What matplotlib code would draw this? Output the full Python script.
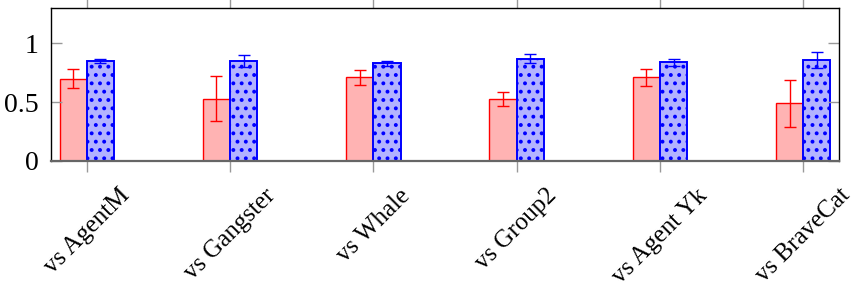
import numpy as np
import matplotlib.pyplot as plt

plt.rcParams['font.family'] = ['Liberation Serif', 'DejaVu Serif']
plt.rcParams['hatch.linewidth'] = 1.6

rivais = ['vs AgentM', 'vs Gangster', 'vs Whale', 'vs Group2', 'vs Agent Yk', 'vs BraveCat']
media_a = [0.70, 0.53, 0.71, 0.53, 0.71, 0.49]
erro_a = [0.08, 0.19, 0.06, 0.06, 0.07, 0.20]
media_b = [0.85, 0.85, 0.83, 0.87, 0.84, 0.86]
erro_b = [0.02, 0.05, 0.02, 0.04, 0.03, 0.07]

x = np.arange(len(rivais))
larg = 0.19

fig = plt.figure(figsize=(8.59, 2.91), dpi=100)
ax = fig.add_axes([51 / 859, 1 - 161 / 291, (839 - 51) / 859, (161 - 8) / 291])

ax.bar(x - larg / 2, media_a, larg, color='#ffb3b3', edgecolor='red', linewidth=1.0,
       yerr=erro_a, error_kw=dict(ecolor='red', elinewidth=1.0, capsize=4, capthick=1.0))
ax.bar(x + larg / 2, media_b, larg, color='#b3b3ff', edgecolor='blue', linewidth=1.4,
       hatch='..', yerr=erro_b, error_kw=dict(ecolor='blue', elinewidth=1.0, capsize=4, capthick=1.0))

ax.set_xlim(-0.25, 5.25)
ax.set_ylim(0, 1.3)
ax.set_yticks([0, 0.5, 1])
ax.set_yticklabels(['0', '0.5', '1'])
ax.set_xticks(x)
ax.set_xticklabels(rivais, rotation=45, ha='center', va='top')

ax.tick_params(axis='x', direction='out', length=8, width=1, color='#999999',
               top=True, labelsize=18, pad=9)
ax.tick_params(axis='y', direction='in', length=8, width=1, color='#999999',
               right=True, labelsize=20, pad=9)

for lado in ['top', 'left', 'right']:
    ax.spines[lado].set_linewidth(1.0)
    ax.spines[lado].set_color('black')
ax.spines['bottom'].set_color('#666666')
ax.spines['bottom'].set_linewidth(1.6)

fig.savefig('out.png', dpi=100)
